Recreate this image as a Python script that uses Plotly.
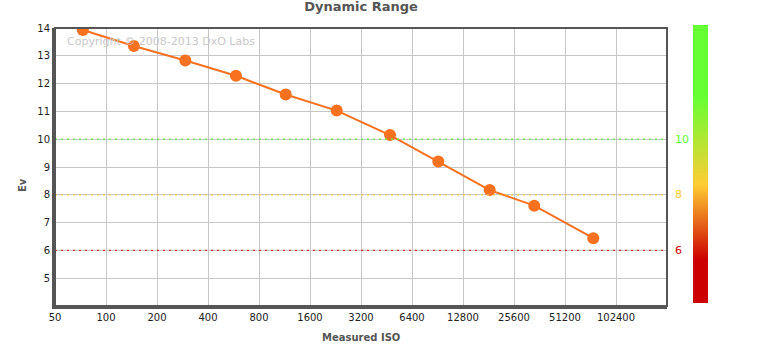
import plotly.graph_objects as go
import math

# Data
iso = [73, 146, 294, 585, 1150, 2300, 4745, 9150, 18400, 33700, 75200]
ev = [13.93, 13.35, 12.83, 12.28, 11.61, 11.03, 10.15, 9.20, 8.17, 7.61, 6.44]
x_ticks = [50, 100, 200, 400, 800, 1600, 3200, 6400, 12800, 25600, 51200, 102400]
y_ticks = [5, 6, 7, 8, 9, 10, 11, 12, 13, 14]
ref_levels = [10, 8, 6]
ref_colors = ["#66ff33", "#ffcc33", "#dd2222"]
ref_label_colors = ["#66ff33", "#ffcc33", "#cc0000"]

fig = go.Figure()

fig.add_trace(go.Scatter(
    x=iso, y=ev, mode="lines+markers",
    line=dict(color="#f7711f", width=2),
    marker=dict(color="#f7711f", size=12),
    hoverinfo="skip", showlegend=False,
))

# dummy trace for colour bar
fig.add_trace(go.Scatter(
    x=[iso[0]], y=[ev[0]], mode="markers",
    marker=dict(
        color=[4], cmin=4, cmax=14, opacity=0, size=1,
        colorscale=[[0, "#cc0000"], [0.154, "#cc0000"], [0.424, "#ffcc33"],
                    [0.74, "#66ff33"], [1, "#66ff33"]],
        showscale=True,
        colorbar=dict(
            thickness=15, thicknessmode="pixels",
            len=278, lenmode="pixels",
            x=1.0425, xanchor="left", xpad=0,
            y=0.51, yanchor="middle", ypad=0,
            outlinewidth=0, showticklabels=False, ticks="",
        ),
    ),
    hoverinfo="skip", showlegend=False,
))

shapes = []
annotations = []
for lvl, c, lc in zip(ref_levels, ref_colors, ref_label_colors):
    shapes.append(dict(type="line", xref="paper", x0=0, x1=1, yref="y", y0=lvl, y1=lvl,
                       line=dict(color=c, width=1.3, dash="2px,4px"), layer="above"))
    annotations.append(dict(text=str(lvl), xref="paper", x=1.0098, xanchor="left",
                            yref="y", y=lvl, yanchor="middle", showarrow=False,
                            font=dict(family="DejaVu Sans", size=11, color=lc)))

# plot frame
shapes.append(dict(type="rect", xref="paper", yref="paper", x0=0, x1=1, y0=0, y1=1,
                   line=dict(color="#555555", width=2), layer="above"))

annotations.append(dict(text="Copyright © 2008-2013 DxO Labs", xref="paper", yref="paper",
                        x=0.0163, xanchor="left", y=0.95, yanchor="middle", showarrow=False,
                        font=dict(family="DejaVu Sans", size=11, color="#c8c8c8")))
annotations.append(dict(text="<b>Ev</b>", xref="paper", yref="paper", x=-0.0539, y=0.435,
                        xanchor="center", yanchor="middle", textangle=-90, showarrow=False,
                        font=dict(family="DejaVu Sans", size=10, color="#555555")))
annotations.append(dict(text="<b>Measured ISO</b>", xref="paper", yref="paper", x=0.5, y=-0.115,
                        xanchor="center", yanchor="middle", showarrow=False,
                        font=dict(family="DejaVu Sans", size=10, color="#555555")))

fig.update_layout(
    width=781, height=344,
    margin=dict(l=55, r=114, t=28, b=38),
    paper_bgcolor="white", plot_bgcolor="white",
    title=dict(text="<b>Dynamic Range</b>", x=0.4622, xanchor="center", y=0.98, yanchor="middle",
               font=dict(family="DejaVu Sans", size=13, color="#555555")),
    xaxis=dict(type="log", range=[math.log10(50), math.log10(204800)],
               tickvals=x_ticks, ticktext=[str(t) for t in x_ticks],
               showgrid=True, gridcolor="#c6c6c6", gridwidth=1,
               showline=True, linecolor="#555555", linewidth=3, ticks="",
               tickfont=dict(family="DejaVu Sans", size=10, color="#222222"),
               zeroline=False, fixedrange=True),
    yaxis=dict(range=[4, 14], tickvals=y_ticks,
               showgrid=True, gridcolor="#c6c6c6", gridwidth=1,
               showline=True, linecolor="#555555", linewidth=3, ticks="",
               tickfont=dict(family="DejaVu Sans", size=10, color="#222222"),
               zeroline=False, fixedrange=True),
    shapes=shapes, annotations=annotations,
    font=dict(family="DejaVu Sans"),
)

fig.write_html("out.html")
